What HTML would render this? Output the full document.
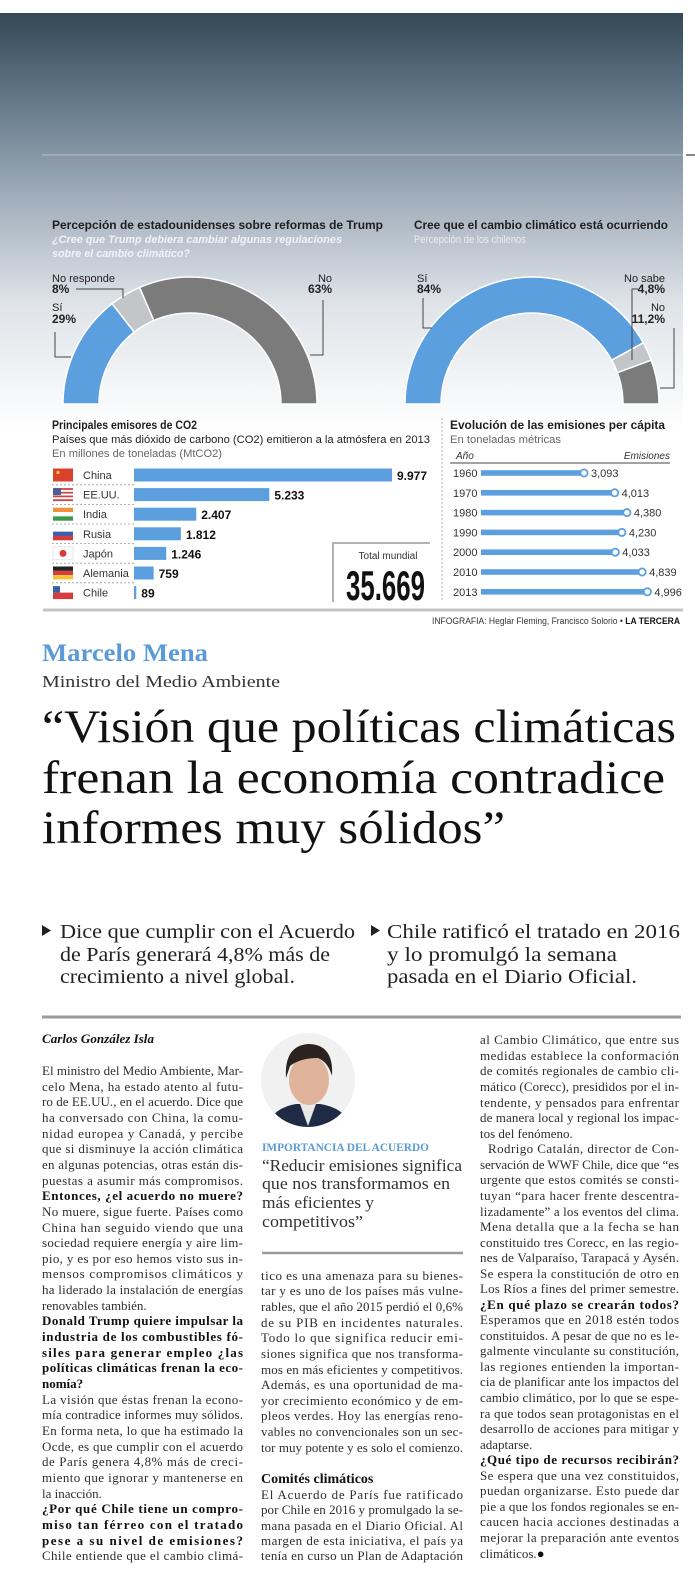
<!DOCTYPE html>
<html lang="es"><head><meta charset="utf-8"><title>Marcelo Mena</title>
<style>
html,body{margin:0;padding:0;background:#fff;}
svg{display:block;}
.sans{font-family:"Liberation Sans",sans-serif;}
.serif{font-family:"Liberation Serif",serif;}
.body{font-family:"Liberation Serif",serif;font-size:13px;fill:#2e2e2e;}
.b{font-weight:bold;fill:#111;}
</style></head>
<body>
<svg id="page" width="695" height="1580" viewBox="0 0 695 1580" xmlns="http://www.w3.org/2000/svg">
<defs>
<linearGradient id="bgGrad" x1="0" y1="13" x2="0" y2="430" gradientUnits="userSpaceOnUse">
<stop offset="0" stop-color="#344856"/>
<stop offset="0.21" stop-color="#63798a"/>
<stop offset="0.45" stop-color="#a3afbc"/>
<stop offset="0.7" stop-color="#dfe4e9"/>
<stop offset="1" stop-color="#ffffff"/>
</linearGradient>
<clipPath id="photoClip"><circle cx="308" cy="1080" r="47"/></clipPath>
</defs>

<rect x="0" y="0" width="695" height="1580" fill="#fff"/>
<rect x="0" y="13" width="683" height="417" fill="url(#bgGrad)"/>
<line x1="42" y1="155" x2="683" y2="155" stroke="#9eabb7" stroke-width="2"/>
<line x1="686" y1="155" x2="695" y2="155" stroke="#888" stroke-width="2"/>

<!-- Donut titles -->
<g class="sans">
<text x="52" y="229" font-size="12" font-weight="bold" fill="#1e1e1e" textLength="331" lengthAdjust="spacingAndGlyphs">Percepción de estadounidenses sobre reformas de Trump</text>
<text x="52" y="243" font-size="11" font-weight="bold" font-style="italic" fill="#eef3f8" textLength="290" lengthAdjust="spacingAndGlyphs">¿Cree que Trump debiera cambiar algunas regulaciones</text>
<text x="52" y="257" font-size="11" font-weight="bold" font-style="italic" fill="#eef3f8" textLength="138" lengthAdjust="spacingAndGlyphs">sobre el cambio climático?</text>
</g>
<g class="sans">
<text x="414" y="229" font-size="12" font-weight="bold" fill="#1e1e1e" textLength="254" lengthAdjust="spacingAndGlyphs">Cree que el cambio climático está ocurriendo</text>
<text x="414" y="243" font-size="11" fill="#e8edf2" textLength="112" lengthAdjust="spacingAndGlyphs">Percepción de los chilenos</text>
</g>

<g id="donuts"></g>

<!-- Donut labels -->
<g class="sans" fill="#222" font-size="11">
<text x="52" y="282">No responde</text>
<text x="52" y="293" font-weight="bold" font-size="12">8%</text>
<polyline points="76,289 123,289 123,298" fill="none" stroke="#444" stroke-width="1"/>
<text x="52" y="311">Sí</text>
<text x="52" y="323" font-weight="bold" font-size="12">29%</text>
<polyline points="55,332 55,357 71,357" fill="none" stroke="#444" stroke-width="1"/>
<text x="332" y="282" text-anchor="end">No</text>
<text x="332" y="293" text-anchor="end" font-weight="bold" font-size="12">63%</text>
<polyline points="323,300 323,355 310,355" fill="none" stroke="#444" stroke-width="1"/>

<text x="417" y="282">Sí</text>
<text x="417" y="293" font-weight="bold" font-size="12">84%</text>
<polyline points="423,298 423,328 432,328" fill="none" stroke="#444" stroke-width="1"/>
<text x="665" y="282" text-anchor="end">No sabe</text>
<text x="665" y="293" text-anchor="end" font-weight="bold" font-size="12">4,8%</text>
<polyline points="638,289 632,289 632,360" fill="none" stroke="#444" stroke-width="1"/>
<text x="665" y="311" text-anchor="end">No</text>
<text x="665" y="323" text-anchor="end" font-weight="bold" font-size="12">11,2%</text>
<polyline points="674,328 674,388 660,388" fill="none" stroke="#444" stroke-width="1"/>
</g>

<!-- CO2 bar chart -->
<g class="sans">
<text x="52" y="429" font-size="12" font-weight="bold" fill="#1e1e1e" textLength="145" lengthAdjust="spacingAndGlyphs">Principales emisores de CO2</text>
<text x="52" y="443" font-size="11" fill="#222" textLength="378" lengthAdjust="spacingAndGlyphs">Países que más dióxido de carbono (CO2) emitieron a la atmósfera en 2013</text>
<text x="52" y="457" font-size="11" fill="#666" textLength="170" lengthAdjust="spacingAndGlyphs">En millones de toneladas (MtCO2)</text>
</g>
<g id="co2bars"></g>
<polyline points="333,602 333,543 430,543" fill="none" stroke="#999" stroke-width="1.5"/>
<text x="388" y="559" class="sans" font-size="10" fill="#333" text-anchor="middle">Total mundial</text>
<text x="346" y="600" class="sans" font-size="42" font-weight="bold" fill="#111" textLength="79" lengthAdjust="spacingAndGlyphs">35.669</text>

<!-- Per capita -->
<line x1="442" y1="418" x2="442" y2="600" stroke="#999" stroke-width="1" stroke-dasharray="1.5,2.5"/>
<g class="sans">
<text x="450" y="429" font-size="12" font-weight="bold" fill="#1e1e1e" textLength="215" lengthAdjust="spacingAndGlyphs">Evolución de las emisiones per cápita</text>
<text x="450" y="443" font-size="11" fill="#666" textLength="111" lengthAdjust="spacingAndGlyphs">En toneladas métricas</text>
<text x="456" y="459" font-size="10" font-style="italic" fill="#333">Año</text>
<text x="670" y="459" font-size="10" font-style="italic" fill="#333" text-anchor="end">Emisiones</text>
<line x1="450" y1="463" x2="670" y2="463" stroke="#444" stroke-width="1"/>
</g>
<g id="percapita"></g>

<line x1="43" y1="610" x2="683" y2="610" stroke="#c4c4c4" stroke-width="3"/>
<text x="432" y="624" class="sans" font-size="9" fill="#333" textLength="248" lengthAdjust="spacingAndGlyphs">INFOGRAFIA: Heglar Fleming, Francisco Solorio • <tspan font-weight="bold" fill="#111">LA TERCERA</tspan></text>

<!-- Headline area -->
<text x="42" y="661" class="serif" font-size="25" font-weight="bold" fill="#5a9ad6" textLength="166" lengthAdjust="spacingAndGlyphs">Marcelo Mena</text>
<text x="42" y="687" class="serif" font-size="17" fill="#333" textLength="238" lengthAdjust="spacingAndGlyphs">Ministro del Medio Ambiente</text>
<g class="serif" font-size="47" fill="#111">
<text x="42" y="742" textLength="634" lengthAdjust="spacingAndGlyphs">“Visión que políticas climáticas</text>
<text x="42" y="793" textLength="623" lengthAdjust="spacingAndGlyphs">frenan la economía contradice</text>
<text x="42" y="843" textLength="463" lengthAdjust="spacingAndGlyphs">informes muy sólidos”</text>
</g>

<g class="serif" font-size="20" fill="#222">
<polygon points="42,925 51,930.5 42,936" fill="#222"/>
<text x="60" y="938" textLength="295" lengthAdjust="spacingAndGlyphs">Dice que cumplir con el Acuerdo</text>
<text x="60" y="961" textLength="270" lengthAdjust="spacingAndGlyphs">de París generará 4,8% más de</text>
<text x="60" y="983" textLength="235" lengthAdjust="spacingAndGlyphs">crecimiento a nivel global.</text>
<polygon points="371,925 380,930.5 371,936" fill="#222"/>
<text x="387" y="938" textLength="293" lengthAdjust="spacingAndGlyphs">Chile ratificó el tratado en 2016</text>
<text x="387" y="961" textLength="230" lengthAdjust="spacingAndGlyphs">y lo promulgó la semana</text>
<text x="387" y="983" textLength="250" lengthAdjust="spacingAndGlyphs">pasada en el Diario Oficial.</text>
</g>

<line x1="42" y1="1017" x2="681" y2="1017" stroke="#9a9a9a" stroke-width="3"/>
<text x="42" y="1043" class="serif" font-size="12.5" font-weight="bold" font-style="italic" fill="#111" textLength="112" lengthAdjust="spacingAndGlyphs">Carlos González Isla</text>

<!-- Column 1 -->
<g class="body">
<text x="42" y="1075" textLength="201" lengthAdjust="spacing">El ministro del Medio Ambiente, Mar-</text>
<text x="42" y="1091" textLength="201" lengthAdjust="spacing">celo Mena, ha estado atento al futu-</text>
<text x="42" y="1106" textLength="201" lengthAdjust="spacing">ro de EE.UU., en el acuerdo. Dice que</text>
<text x="42" y="1122" textLength="201" lengthAdjust="spacing">ha conversado con China, la comu-</text>
<text x="42" y="1138" textLength="201" lengthAdjust="spacing">nidad europea y Canadá, y percibe</text>
<text x="42" y="1153" textLength="201" lengthAdjust="spacing">que si disminuye la acción climática</text>
<text x="42" y="1169" textLength="201" lengthAdjust="spacing">en algunas potencias, otras están dis-</text>
<text x="42" y="1185" textLength="201" lengthAdjust="spacing">puestas a asumir más compromisos.</text>
<text x="42" y="1200" textLength="201" lengthAdjust="spacing" class="b">Entonces, ¿el acuerdo no muere?</text>
<text x="42" y="1216" textLength="201" lengthAdjust="spacing">No muere, sigue fuerte. Países como</text>
<text x="42" y="1232" textLength="201" lengthAdjust="spacing">China han seguido viendo que una</text>
<text x="42" y="1247" textLength="201" lengthAdjust="spacing">sociedad requiere energía y aire lim-</text>
<text x="42" y="1263" textLength="201" lengthAdjust="spacing">pio, y es por eso hemos visto sus in-</text>
<text x="42" y="1278" textLength="201" lengthAdjust="spacing">mensos compromisos climáticos y</text>
<text x="42" y="1294" textLength="201" lengthAdjust="spacing">ha liderado la instalación de energías</text>
<text x="42" y="1310">renovables también.</text>
<text x="42" y="1325" textLength="201" lengthAdjust="spacing" class="b">Donald Trump quiere impulsar la</text>
<text x="42" y="1341" textLength="201" lengthAdjust="spacing" class="b">industria de los combustibles fó-</text>
<text x="42" y="1357" textLength="201" lengthAdjust="spacing" class="b">siles para generar empleo ¿las</text>
<text x="42" y="1372" textLength="201" lengthAdjust="spacing" class="b">políticas climáticas frenan la eco-</text>
<text x="42" y="1388" class="b">nomía?</text>
<text x="42" y="1404" textLength="201" lengthAdjust="spacing">La visión que éstas frenan la econo-</text>
<text x="42" y="1419" textLength="201" lengthAdjust="spacing">mía contradice informes muy sólidos.</text>
<text x="42" y="1435" textLength="201" lengthAdjust="spacing">En forma neta, lo que ha estimado la</text>
<text x="42" y="1451" textLength="201" lengthAdjust="spacing">Ocde, es que cumplir con el acuerdo</text>
<text x="42" y="1466" textLength="201" lengthAdjust="spacing">de París genera 4,8% más de creci-</text>
<text x="42" y="1482" textLength="201" lengthAdjust="spacing">miento que ignorar y mantenerse en</text>
<text x="42" y="1498">la inacción.</text>
<text x="42" y="1513" textLength="201" lengthAdjust="spacing" class="b">¿Por qué Chile tiene un compro-</text>
<text x="42" y="1529" textLength="201" lengthAdjust="spacing" class="b">miso tan férreo con el tratado</text>
<text x="42" y="1545" textLength="201" lengthAdjust="spacing" class="b">pese a su nivel de emisiones?</text>
<text x="42" y="1560" textLength="201" lengthAdjust="spacing">Chile entiende que el cambio climá-</text>
</g>

<!-- Column 2 -->
<g>
<circle cx="308" cy="1080" r="47" fill="#f1f1f1"/>
<g clip-path="url(#photoClip)">
<path d="M262,1135 Q270,1108 296,1104 L320,1104 Q348,1108 356,1135 Z" fill="#1f2a44"/>
<path d="M300,1104 L308,1126 L316,1104 Z" fill="#e8e8e8"/>
<ellipse cx="309" cy="1080" rx="20" ry="25" fill="#e0b49a"/>
<path d="M286,1078 Q284,1046 308,1044 Q334,1044 332,1076 Q328,1062 318,1058 Q300,1058 290,1066 Z" fill="#2a2320"/>
</g>
</g>
<text x="262" y="1151" class="serif" font-size="11.5" font-weight="bold" fill="#5a9ad6" textLength="167" lengthAdjust="spacingAndGlyphs">IMPORTANCIA DEL ACUERDO</text>
<g class="serif" font-size="17" fill="#333">
<text x="262" y="1171" textLength="200" lengthAdjust="spacingAndGlyphs">“Reducir emisiones significa</text>
<text x="262" y="1189" textLength="188" lengthAdjust="spacingAndGlyphs">que nos transformamos en</text>
<text x="262" y="1208" textLength="112" lengthAdjust="spacingAndGlyphs">más eficientes y</text>
<text x="262" y="1227" textLength="101" lengthAdjust="spacingAndGlyphs">competitivos”</text>
</g>
<line x1="262" y1="1253" x2="463" y2="1253" stroke="#9a9a9a" stroke-width="2.5"/>
<g class="body">
<text x="261" y="1280" textLength="202" lengthAdjust="spacing">tico es una amenaza para su bienes-</text>
<text x="261" y="1295" textLength="202" lengthAdjust="spacing">tar y es uno de los países más vulne-</text>
<text x="261" y="1311" textLength="202" lengthAdjust="spacing">rables, que el año 2015 perdió el 0,6%</text>
<text x="261" y="1327" textLength="202" lengthAdjust="spacing">de su PIB en incidentes naturales.</text>
<text x="261" y="1342" textLength="202" lengthAdjust="spacing">Todo lo que significa reducir emi-</text>
<text x="261" y="1358" textLength="202" lengthAdjust="spacing">siones significa que nos transforma-</text>
<text x="261" y="1374" textLength="202" lengthAdjust="spacing">mos en más eficientes y competitivos.</text>
<text x="261" y="1389" textLength="202" lengthAdjust="spacing">Además, es una oportunidad de ma-</text>
<text x="261" y="1405" textLength="202" lengthAdjust="spacing">yor crecimiento económico y de em-</text>
<text x="261" y="1420" textLength="202" lengthAdjust="spacing">pleos verdes. Hoy las energías reno-</text>
<text x="261" y="1436" textLength="202" lengthAdjust="spacing">vables no convencionales son un sec-</text>
<text x="261" y="1452" textLength="202" lengthAdjust="spacing">tor muy potente y es solo el comienzo.</text>
<text x="261" y="1483" font-size="14" class="b">Comités climáticos</text>
<text x="261" y="1499" textLength="202" lengthAdjust="spacing">El Acuerdo de París fue ratificado</text>
<text x="261" y="1514" textLength="202" lengthAdjust="spacing">por Chile en 2016 y promulgado la se-</text>
<text x="261" y="1530" textLength="202" lengthAdjust="spacing">mana pasada en el Diario Oficial. Al</text>
<text x="261" y="1545" textLength="202" lengthAdjust="spacing">margen de esta iniciativa, el país ya</text>
<text x="261" y="1560" textLength="202" lengthAdjust="spacing">tenía en curso un Plan de Adaptación</text>
</g>

<!-- Column 3 -->
<g class="body">
<text x="480" y="1044" textLength="199" lengthAdjust="spacing">al Cambio Climático, que entre sus</text>
<text x="480" y="1060" textLength="199" lengthAdjust="spacing">medidas establece la conformación</text>
<text x="480" y="1075" textLength="199" lengthAdjust="spacing">de comités regionales de cambio cli-</text>
<text x="480" y="1091" textLength="199" lengthAdjust="spacing">mático (Corecc), presididos por el in-</text>
<text x="480" y="1107" textLength="199" lengthAdjust="spacing">tendente, y pensados para enfrentar</text>
<text x="480" y="1122" textLength="199" lengthAdjust="spacing">de manera local y regional los impac-</text>
<text x="480" y="1138">tos del fenómeno.</text>
<text x="488" y="1153" textLength="191" lengthAdjust="spacing">Rodrigo Catalán, director de Con-</text>
<text x="480" y="1169" textLength="199" lengthAdjust="spacing">servación de WWF Chile, dice que “es</text>
<text x="480" y="1184" textLength="199" lengthAdjust="spacing">urgente que estos comités se consti-</text>
<text x="480" y="1200" textLength="199" lengthAdjust="spacing">tuyan “para hacer frente descentra-</text>
<text x="480" y="1216" textLength="199" lengthAdjust="spacing">lizadamente” a los eventos del clima.</text>
<text x="480" y="1231" textLength="199" lengthAdjust="spacing">Mena detalla que a la fecha se han</text>
<text x="480" y="1247" textLength="199" lengthAdjust="spacing">constituido tres Corecc, en las regio-</text>
<text x="480" y="1262" textLength="199" lengthAdjust="spacing">nes de Valparaíso, Tarapacá y Aysén.</text>
<text x="480" y="1278" textLength="199" lengthAdjust="spacing">Se espera la constitución de otro en</text>
<text x="480" y="1293" textLength="199" lengthAdjust="spacing">Los Ríos a fines del primer semestre.</text>
<text x="480" y="1309" textLength="199" lengthAdjust="spacing" class="b">¿En qué plazo se crearán todos?</text>
<text x="480" y="1324" textLength="199" lengthAdjust="spacing">Esperamos que en 2018 estén todos</text>
<text x="480" y="1340" textLength="199" lengthAdjust="spacing">constituidos. A pesar de que no es le-</text>
<text x="480" y="1355" textLength="199" lengthAdjust="spacing">galmente vinculante su constitución,</text>
<text x="480" y="1371" textLength="199" lengthAdjust="spacing">las regiones entienden la importan-</text>
<text x="480" y="1386" textLength="199" lengthAdjust="spacing">cia de planificar ante los impactos del</text>
<text x="480" y="1402" textLength="199" lengthAdjust="spacing">cambio climático, por lo que se espe-</text>
<text x="480" y="1418" textLength="199" lengthAdjust="spacing">ra que todos sean protagonistas en el</text>
<text x="480" y="1433" textLength="199" lengthAdjust="spacing">desarrollo de acciones para mitigar y</text>
<text x="480" y="1449">adaptarse.</text>
<text x="480" y="1464" textLength="199" lengthAdjust="spacing" class="b">¿Qué tipo de recursos recibirán?</text>
<text x="480" y="1480" textLength="199" lengthAdjust="spacing">Se espera que una vez constituidos,</text>
<text x="480" y="1495" textLength="199" lengthAdjust="spacing">puedan organizarse. Esto puede dar</text>
<text x="480" y="1511" textLength="199" lengthAdjust="spacing">pie a que los fondos regionales se en-</text>
<text x="480" y="1526" textLength="199" lengthAdjust="spacing">caucen hacia acciones destinadas a</text>
<text x="480" y="1542" textLength="199" lengthAdjust="spacing">mejorar la preparación ante eventos</text>
<text x="480" y="1558">climáticos.<tspan fill="#111">●</tspan></text>
</g>
</svg>

<script>
// ---- Poll data ----
const usCategories = ["Sí", "No responde", "No"];
const usShares = [29, 8, 63];
const clCategories = ["Sí", "No sabe", "No"];
const clShares = [84, 4.8, 11.2];
const donutColors = ["#5b9fdf", "#c3c5c8", "#7b7b7b"];

// ---- CO2 emitters ----
const countries = ["China", "EE.UU.", "India", "Rusia", "Japón", "Alemania", "Chile"];
const emissions = [9977, 5233, 2407, 1812, 1246, 759, 89];
const emissionLabels = ["9.977", "5.233", "2.407", "1.812", "1.246", "759", "89"];

// ---- Per capita ----
const years = ["1960", "1970", "1980", "1990", "2000", "2010", "2013"];
const perCapita = [3.093, 4.013, 4.380, 4.230, 4.033, 4.839, 4.996];
const perCapitaLabels = ["3,093", "4,013", "4,380", "4,230", "4,033", "4,839", "4,996"];

const NS = "http://www.w3.org/2000/svg";
function mk(tag, attrs, parent) {
  const el = document.createElementNS(NS, tag);
  for (const k in attrs) el.setAttribute(k, attrs[k]);
  parent.appendChild(el);
  return el;
}

// Donuts
function drawDonut(cx, cy, r0, r1, shares, cats, prefix) {
  const g = document.getElementById("donuts");
  const total = shares.reduce((a, b) => a + b, 0);
  let a = Math.PI;
  const P = (r, t) => [cx + r * Math.cos(t), cy - r * Math.sin(t)];
  shares.forEach((s, i) => {
    const a1 = a - (s / total) * Math.PI;
    const o0 = P(r1, a), o1 = P(r1, a1), i1 = P(r0, a1), i0 = P(r0, a);
    const d = `M${o0[0]},${o0[1]} A${r1},${r1} 0 0 1 ${o1[0]},${o1[1]} L${i1[0]},${i1[1]} A${r0},${r0} 0 0 0 ${i0[0]},${i0[1]} Z`;
    const p = mk("path", { d: d, fill: donutColors[i], stroke: "#ffffff", "stroke-width": 1.5 }, g);
    
    
    a = a1;
  });
}
drawDonut(190, 404, 91, 127, usShares, usCategories, "us");
drawDonut(532, 404, 91, 127, clShares, clCategories, "chile");

// CO2 bars
(function () {
  const g = document.getElementById("co2bars");
  const x0 = 134, maxW = 258, maxV = 9977;
  const xS = v => x0 + v * maxW / maxV;
  const yS = i => 475 + i * 19.6;
  countries.forEach((c, i) => {
    const y = yS(i);
    // flag
    const f = mk("g", {}, g);
    
    
    const fx = 53, fy = y - 6.5, fw = 20, fh = 13;
    if (c === "China") { mk("rect", { x: fx, y: fy, width: fw, height: fh, fill: "#d9412b" }, f); mk("circle", { cx: fx + 5, cy: fy + 4, r: 1.6, fill: "#f3d03a" }, f); }
    else if (c === "EE.UU.") { for (let k = 0; k < 7; k++) mk("rect", { x: fx, y: fy + k * fh / 7, width: fw, height: fh / 7, fill: k % 2 ? "#fff" : "#c9464a" }, f); mk("rect", { x: fx, y: fy, width: 8, height: 7, fill: "#4a5f99" }, f); }
    else if (c === "India") { mk("rect", { x: fx, y: fy, width: fw, height: fh / 3, fill: "#f0903a" }, f); mk("rect", { x: fx, y: fy + fh / 3, width: fw, height: fh / 3, fill: "#fff" }, f); mk("rect", { x: fx, y: fy + 2 * fh / 3, width: fw, height: fh / 3, fill: "#3c9a4a" }, f); }
    else if (c === "Rusia") { mk("rect", { x: fx, y: fy, width: fw, height: fh / 3, fill: "#fff" }, f); mk("rect", { x: fx, y: fy + fh / 3, width: fw, height: fh / 3, fill: "#3b5ea8" }, f); mk("rect", { x: fx, y: fy + 2 * fh / 3, width: fw, height: fh / 3, fill: "#d63c3c" }, f); }
    else if (c === "Japón") { mk("rect", { x: fx, y: fy, width: fw, height: fh, fill: "#fff", stroke: "#ccc", "stroke-width": 0.5 }, f); mk("circle", { cx: fx + 10, cy: y, r: 3.5, fill: "#d63c3c" }, f); }
    else if (c === "Alemania") { mk("rect", { x: fx, y: fy, width: fw, height: fh / 3, fill: "#222" }, f); mk("rect", { x: fx, y: fy + fh / 3, width: fw, height: fh / 3, fill: "#d63c3c" }, f); mk("rect", { x: fx, y: fy + 2 * fh / 3, width: fw, height: fh / 3, fill: "#f2c53a" }, f); }
    else { mk("rect", { x: fx, y: fy, width: fw, height: fh / 2, fill: "#fff" }, f); mk("rect", { x: fx, y: fy + fh / 2, width: fw, height: fh / 2, fill: "#d63c3c" }, f); mk("rect", { x: fx, y: fy, width: 7, height: fh / 2, fill: "#3b5ea8" }, f); }
    const t = mk("text", { x: 83, y: y + 4, "font-size": 11, fill: "#333", "font-family": "Liberation Sans, sans-serif" }, g);
    t.textContent = c;
    
    
    if (i < countries.length - 1) {
      const ln = mk("line", { x1: 52, y1: y + 9.8, x2: 134, y2: y + 9.8, stroke: "#999", "stroke-width": 0.8, "stroke-dasharray": "2,2" }, g);
      
      
    }
    const w = Math.max(xS(emissions[i]) - x0, 2);
    const b = mk("rect", { x: x0, y: y - 6.5, width: w, height: 13, fill: "#5b9fdf" }, g);
    
    
    const v = mk("text", { x: x0 + w + 5, y: y + 5, "font-size": 12, "font-weight": "bold", fill: "#111", "font-family": "Liberation Sans, sans-serif" }, g);
    v.textContent = emissionLabels[i];
    
    
  });
})();

// Per capita bars
(function () {
  const g = document.getElementById("percapita");
  const x0 = 481, k = 33.3;
  const xS = v => x0 + v * k;
  const yS = i => 473 + i * 19.8;
  years.forEach((yr, i) => {
    const y = yS(i);
    const t = mk("text", { x: 453, y: y + 4, "font-size": 11, fill: "#333", "font-family": "Liberation Sans, sans-serif" }, g);
    t.textContent = yr;
    
    
    const xe = xS(perCapita[i]);
    const b = mk("rect", { x: x0, y: y - 2.8, width: xe - x0, height: 5.6, fill: "#5b9fdf" }, g);
    
    
    const c = mk("circle", { cx: xe, cy: y, r: 3.6, fill: "#fff", stroke: "#5b9fdf", "stroke-width": 1.8 }, g);
    
    
    const v = mk("text", { x: xe + 7, y: y + 4, "font-size": 11, fill: "#333", "font-family": "Liberation Sans, sans-serif" }, g);
    v.textContent = perCapitaLabels[i];
    
    
  });
})();
</script>
</body></html>
